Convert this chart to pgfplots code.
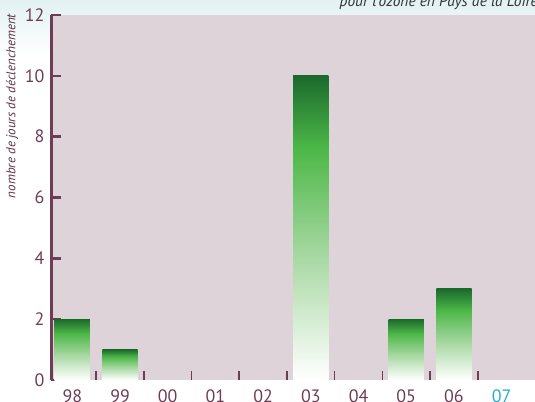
\documentclass[border=0pt]{standalone}
\usepackage{pgfplots}
\pgfplotsset{compat=1.18}
\usepackage{fontspec}
\setmainfont{PT Sans}

\definecolor{plum}{HTML}{6E3D55}
\definecolor{bgpink}{HTML}{DDD3D8}
\definecolor{cyan07}{HTML}{2AABD2}
\definecolor{g1}{HTML}{A9D9A4}
\definecolor{g2}{HTML}{4DB848}
\definecolor{g3}{HTML}{1B6A2C}
\definecolor{topteal}{HTML}{E2F1F2}

\pgfdeclareverticalshading{bargreen}{100bp}{color(0bp)=(white); color(25bp)=(white); color(45bp)=(g1); color(63bp)=(g2); color(75bp)=(g3); color(100bp)=(g3)}

\pgfplotsset{greenbar/.style={ybar, bar width=0.74, shade, shading=bargreen, draw=none}}

\begin{document}
\begin{tikzpicture}[x=1bp,y=1bp]
\path[use as bounding box, clip] (0,0) rectangle (535,401);
\shade[top color=topteal, bottom color=white] (0,345) rectangle (535,401);
\begin{axis}[
  at={(51bp,21bp)}, anchor=south west,
  scale only axis, width=488.8bp, height=365bp,
  xmin=-0.447, xmax=9.8, ymin=0, ymax=12,
  axis x line=bottom, axis y line=left,
  axis line style={-},
  x axis line style={draw=none},
  y axis line style={plum, line width=3bp},
  axis background/.style={fill=bgpink},
  tick align=inside,
  ytick={0,2,...,12},
  major tick length=10bp,
  minor tick length=9bp,
  ytick style={plum, line width=2.5bp},
  xtick={0,...,9},
  xticklabels={98,99,00,01,02,03,04,05,06,\textcolor{cyan07}{07}},
  minor xtick={0.5,1.5,...,8.5},
  major x tick style={draw=none},
  minor x tick style={plum, line width=1.6bp},
  ticklabel style={font=\fontsize{18}{20}\selectfont, text=plum},
  xticklabel style={yshift=-6bp},
  yticklabel style={xshift=-3bp},
  /pgf/number format/assume math mode=true,
  clip=false,
]
% nombre de jours par annee (98 a 07), annees a zero non tracees
\addplot[greenbar] coordinates {(0,2)};
\addplot[greenbar] coordinates {(1,1)};
\addplot[greenbar] coordinates {(5,10)};
\addplot[greenbar] coordinates {(7,2)};
\addplot[greenbar] coordinates {(8,3)};
\end{axis}
\node[rotate=90, font=\fontsize{13}{15}\selectfont\itshape, text=plum!80!black] at (12,295) {nombre de jours de déclenchement};
\node[anchor=base east, font=\fontsize{15.5}{17}\selectfont\itshape, text=black!80, inner sep=0pt] at (538,394) {pour l'ozone en Pays de la Loire};
\end{tikzpicture}
\end{document}
